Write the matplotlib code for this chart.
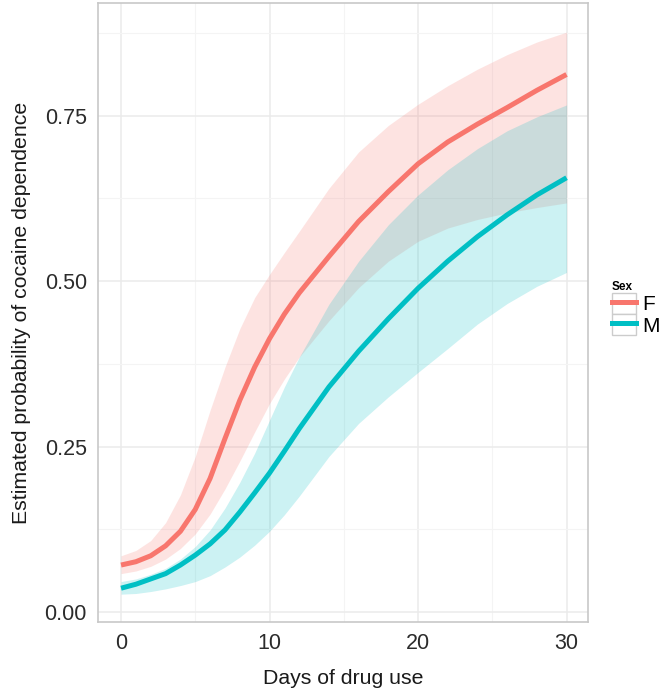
import matplotlib
matplotlib.use("Agg")
import matplotlib.pyplot as plt
import matplotlib.patches as mpatches
from matplotlib.lines import Line2D
from matplotlib.legend_handler import HandlerTuple
from matplotlib.ticker import MultipleLocator

# values (days of drug use vs estimated probability)
days = [0, 1, 2, 3, 4, 5, 6, 7, 8, 9, 10, 11, 12, 14, 16, 18, 20, 22, 24, 26, 28, 30]

f_fit = [0.071, 0.076, 0.085, 0.100, 0.122, 0.155, 0.202, 0.262, 0.320, 0.370, 0.413,
         0.450, 0.482, 0.537, 0.590, 0.635, 0.677, 0.710, 0.737, 0.762, 0.788, 0.812]
f_upper = [0.085, 0.093, 0.108, 0.135, 0.177, 0.235, 0.305, 0.370, 0.428, 0.475, 0.510,
           0.543, 0.575, 0.640, 0.695, 0.735, 0.767, 0.795, 0.820, 0.842, 0.861, 0.876]
f_lower = [0.058, 0.062, 0.069, 0.080, 0.096, 0.118, 0.148, 0.186, 0.228, 0.272, 0.315,
           0.352, 0.385, 0.440, 0.490, 0.530, 0.560, 0.580, 0.593, 0.603, 0.611, 0.618]

m_fit = [0.036, 0.042, 0.050, 0.058, 0.071, 0.086, 0.103, 0.124, 0.151, 0.180, 0.210,
         0.243, 0.277, 0.340, 0.394, 0.443, 0.489, 0.530, 0.567, 0.600, 0.630, 0.656]
m_upper = [0.046, 0.050, 0.057, 0.066, 0.080, 0.099, 0.124, 0.157, 0.196, 0.240, 0.290,
           0.340, 0.385, 0.465, 0.530, 0.585, 0.630, 0.668, 0.700, 0.727, 0.748, 0.766]
m_lower = [0.027, 0.028, 0.031, 0.035, 0.040, 0.046, 0.055, 0.068, 0.083, 0.101, 0.122,
           0.147, 0.175, 0.235, 0.285, 0.325, 0.362, 0.398, 0.435, 0.466, 0.492, 0.513]

sexes = ["F", "M"]
colors = ["#F8766D", "#00BFC4"]

plt.rcParams["font.family"] = ["Liberation Sans", "DejaVu Sans"]

fig = plt.figure(figsize=(6.6, 6.93), dpi=100)
ax = fig.add_axes([0.1485, 0.1025, 0.7425, 0.8932])

ax.fill_between(days, f_lower, f_upper, color=colors[0], alpha=0.2, linewidth=0)
ax.fill_between(days, m_lower, m_upper, color=colors[1], alpha=0.2, linewidth=0)
ax.plot(days, f_fit, color=colors[0], linewidth=3.6, solid_capstyle="butt")
ax.plot(days, m_fit, color=colors[1], linewidth=3.6, solid_capstyle="butt")

ax.set_xlim(-1.55, 31.45)
ax.set_ylim(-0.015, 0.92)
ax.xaxis.set_major_locator(MultipleLocator(10))
ax.xaxis.set_minor_locator(MultipleLocator(5))
ax.yaxis.set_major_locator(MultipleLocator(0.25))
ax.yaxis.set_minor_locator(MultipleLocator(0.125))
ax.yaxis.set_major_formatter(plt.FuncFormatter(lambda v, p: f"{v:.2f}"))

ax.grid(which="major", color="#EBEBEB", linewidth=1.1)
ax.grid(which="minor", color="#F4F4F4", linewidth=0.8)
ax.set_axisbelow(True)
for s in ax.spines.values():
    s.set_color("#C8C8C8")
    s.set_linewidth(1.2)
ax.tick_params(which="both", length=0, labelsize=15.5, labelcolor="#2b2b2b", pad=8)

ax.set_xlabel("Days of drug use", fontsize=15.3, color="#1a1a1a", labelpad=11)
ax.set_ylabel("Estimated probability of cocaine dependence", fontsize=15.3,
              color="#1a1a1a", labelpad=10)

# legend keys: grey-framed box with the line on top
handles = []
for c in colors:
    box = mpatches.Patch(facecolor="white", edgecolor="#CCCCCC", linewidth=1)
    ln = Line2D([], [], color=c, linewidth=3.6)
    handles.append((box, ln))
leg = fig.legend(handles, sexes, title="Sex", loc="center left",
                 bbox_to_anchor=(0.905, 0.555), frameon=False, fontsize=15,
                 handlelength=1.15, handleheight=1.15, handletextpad=0.3,
                 labelspacing=0.0, borderpad=0.2,
                 handler_map={tuple: HandlerTuple(ndivide=1, pad=0)})
leg.get_title().set_fontsize(8.5)
leg.get_title().set_fontweight("bold")
leg._legend_box.align = "left"

fig.savefig("out.png", dpi=100)
